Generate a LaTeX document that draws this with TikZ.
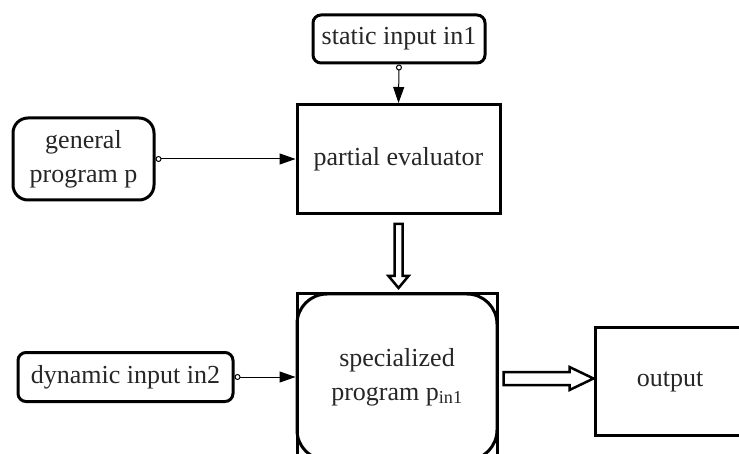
\documentclass[tikz,border=0pt]{standalone}
\usepackage{fontspec}
\setmainfont{Liberation Serif}
\usetikzlibrary{arrows.meta,calc}
\begin{document}
\begin{tikzpicture}[x=1pt,y=-1pt,
  txt/.style={font=\fontsize{26}{34}\selectfont, text=black!85, align=center, inner sep=0pt},
  roundbox/.style={txt, draw, line width=3pt, rounded corners=#1},
  sqbox/.style={txt, draw, line width=3pt},
  conn/.style={line width=1pt, {Circle[open,length=6pt,width=6pt]}-{Triangle[length=16pt,width=11pt]}},
  hollow/.style={draw, line width=2.5pt, fill=white, line join=miter}
]
\clip (0,0) rectangle (739,454);
\fill[white] (0,0) rectangle (739,454);

\node[roundbox=8pt, minimum width=172pt, minimum height=48pt] (static) at (399,39) {static input in1};
\node[roundbox=15pt, minimum width=141pt, minimum height=82pt] (general) at (83.5,159) {general\\program p};
\node[sqbox, minimum width=203pt, minimum height=109pt] (partial) at (398.5,159) {partial evaluator};
\node[sqbox, minimum width=200pt, minimum height=166pt] (spec) at (397,377) {};
\node[roundbox=30pt, minimum width=200pt, minimum height=166pt] (specin) at (397,377) {specialized\\program p\textsubscript{in1}};
\node[roundbox=8pt, minimum width=215pt, minimum height=49pt] (dynamic) at (125.5,377) {dynamic input in2};
\node[sqbox, minimum width=150pt, minimum height=107pt] (output) at (670,381.5) {output};

\draw[conn] (static.south) -- (partial.north);
\draw[conn] (general.east) -- (partial.west);
\draw[conn] (dynamic.east) -- (spec.west);

% hollow arrow down
\coordinate (dtop) at ($(partial.south)+(0,9)$);
\draw[hollow] ($(dtop)+(-4,0)$) -- ($(dtop)+(4,0)$) -- ($(dtop)+(4,52)$) -- ($(dtop)+(10,52)$)
  -- ($(dtop)+(0,64)$) -- ($(dtop)+(-10,52)$) -- ($(dtop)+(-4,52)$) -- cycle;
% hollow arrow right
\coordinate (rst) at ($(spec.east)+(5,1.5)$);
\draw[hollow] ($(rst)+(0,-6.5)$) -- ($(rst)+(66,-6.5)$) -- ($(rst)+(66,-11.5)$) -- ($(rst)+(90,0)$)
  -- ($(rst)+(66,11.5)$) -- ($(rst)+(66,6.5)$) -- ($(rst)+(0,6.5)$) -- cycle;
\end{tikzpicture}
\end{document}
